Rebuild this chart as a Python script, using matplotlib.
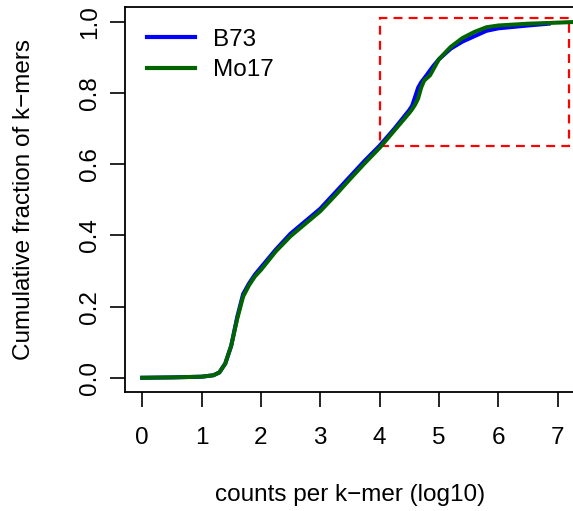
import matplotlib
matplotlib.use("Agg")
import matplotlib.pyplot as plt
from matplotlib.patches import Rectangle

plt.rcParams['font.family'] = ['Liberation Sans', 'DejaVu Sans']

# values
b73_x = [0, 0.5, 1.0, 1.2, 1.3, 1.4, 1.5, 1.6, 1.7, 1.8, 1.9, 2.0, 2.25, 2.5, 2.75,
         3.0, 3.25, 3.5, 3.75, 4.0, 4.25, 4.5, 4.55, 4.6, 4.65, 4.7, 4.8, 4.9, 5.0,
         5.2, 5.4, 5.6, 5.8, 6.0, 6.5, 6.85]
b73_y = [0, 0.001, 0.003, 0.007, 0.015, 0.04, 0.09, 0.17, 0.235, 0.265, 0.29, 0.31,
         0.36, 0.405, 0.44, 0.475, 0.52, 0.565, 0.61, 0.652, 0.70, 0.752, 0.765, 0.79,
         0.815, 0.83, 0.852, 0.875, 0.895, 0.925, 0.945, 0.96, 0.975, 0.982, 0.99, 0.995]

mo17_x = [0, 0.5, 1.0, 1.2, 1.3, 1.4, 1.5, 1.6, 1.7, 1.8, 1.9, 2.0, 2.25, 2.5, 2.75,
          3.0, 3.25, 3.5, 3.75, 4.0, 4.25, 4.5, 4.55, 4.6, 4.65, 4.7, 4.75, 4.85, 4.9,
          5.0, 5.2, 5.4, 5.6, 5.8, 6.0, 6.5, 7.0, 7.3]
mo17_y = [0, 0.001, 0.003, 0.007, 0.015, 0.04, 0.09, 0.165, 0.228, 0.26, 0.285, 0.303,
          0.355, 0.398, 0.433, 0.468, 0.512, 0.558, 0.603, 0.646, 0.695, 0.744, 0.755,
          0.768, 0.785, 0.815, 0.835, 0.85, 0.865, 0.895, 0.93, 0.955, 0.972, 0.985,
          0.99, 0.995, 0.998, 1.0]

zoom_box = [4.0, 0.65, 7.2, 1.01]   # x0, y0, x1, y1
xticks = [0, 1, 2, 3, 4, 5, 6, 7]
yticks = [0.0, 0.2, 0.4, 0.6, 0.8, 1.0]

fs = 17.5
fig = plt.figure(figsize=(5.73, 5.11), dpi=100)
ax = fig.add_axes([125/573, 119/511, 448/573, 385/511])

ax.plot(b73_x, b73_y, color="#0000ff", linewidth=2.9, label="B73")
ax.plot(mo17_x, mo17_y, color="#006400", linewidth=2.9, label="Mo17")

ax.add_patch(Rectangle((zoom_box[0], zoom_box[1]), zoom_box[2]-zoom_box[0],
                       zoom_box[3]-zoom_box[1], fill=False, edgecolor="red",
                       linewidth=1.6, linestyle=(0, (4, 2.8))))

ax.set_xlim(-0.29, 7.26)
ax.set_ylim(-0.04, 1.042)
ax.set_xticks(xticks)
ax.set_xticklabels([str(t) for t in xticks])
ax.set_yticks(yticks)
ax.set_yticklabels(["%.1f" % t for t in yticks], rotation=90, va="center")

ax.spines['right'].set_visible(False)
for s in ['left', 'top', 'bottom']:
    ax.spines[s].set_linewidth(1.3)
ax.tick_params(axis='both', direction='out', length=11, width=1.2, labelsize=fs)
ax.tick_params(axis='x', pad=14)
ax.tick_params(axis='y', pad=6)

ax.set_xlabel("counts per k\u2212mer (log10)", fontsize=fs)
ax.set_ylabel("Cumulative fraction of k\u2212mers", fontsize=fs)
ax.xaxis.set_label_coords(0.502, -0.238)
ax.yaxis.set_label_coords(-0.2, 0.5)

leg = ax.legend(loc="upper left", bbox_to_anchor=(22/448, 0.944), frameon=False,
                fontsize=fs, handlelength=1.98, handletextpad=0.74, labelspacing=0.35,
                borderpad=0, borderaxespad=0)
for ln in leg.get_lines():
    ln.set_linewidth(3)

fig.savefig("out.png", dpi=100)
